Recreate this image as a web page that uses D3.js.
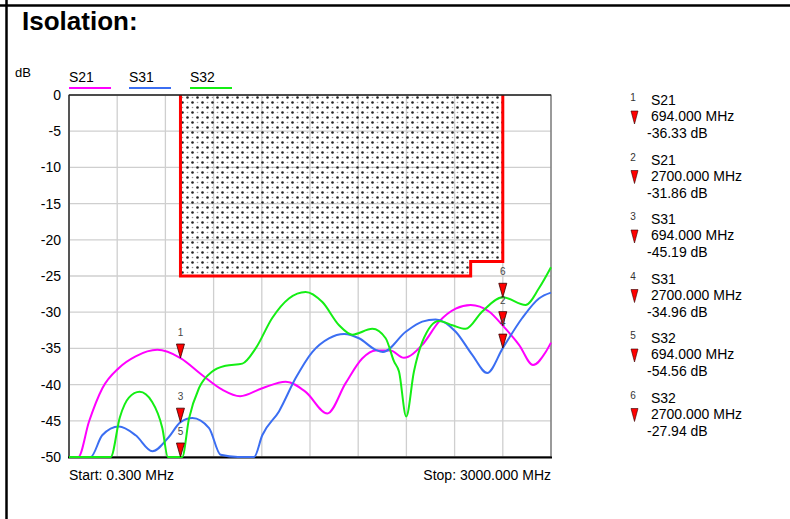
<!DOCTYPE html>
<html>
<head>
<meta charset="utf-8">
<script src="https://cdn.jsdelivr.net/npm/d3@7"></script>
<style>
  body { margin: 0; background: #fff; }
  text { font-family: "Liberation Sans", Arial, sans-serif; }
</style>
</head>
<body>
<div id="chart"></div>
<script>
// traces (MHz / dB), values below -50 get clamped on the floor
var s21Freq = [0.3, 58, 125, 208, 311, 415, 550, 694, 830, 954, 1065, 1203, 1349, 1473, 1608, 1722, 1825, 1909, 2000, 2085, 2199, 2303, 2407, 2500, 2614, 2700, 2801, 2888, 2967, 3000];
var s21Db   = [-58, -50, -45.1, -40.5, -37.7, -36.1, -35.2, -36.33, -38.7, -40.7, -41.6, -40.5, -39.6, -41.0, -44.0, -39.8, -36.4, -35.3, -35.3, -36.3, -34.5, -31.3, -29.5, -29.0, -29.9, -31.86, -34.5, -37.3, -35.5, -34.2];

var s31Freq = [0.3, 135, 207, 311, 415, 519, 623, 694, 768, 872, 944, 1052, 1152, 1203, 1307, 1411, 1514, 1618, 1712, 1805, 1909, 1954, 2096, 2199, 2282, 2407, 2510, 2603, 2700, 2821, 2925, 3000];
var s31Db   = [-55, -50, -47.0, -45.8, -47.0, -49.2, -47.2, -45.19, -44.6, -46.0, -49.7, -53, -50, -47.0, -43.7, -39.1, -35.5, -33.6, -33.0, -33.6, -35.2, -35.5, -32.7, -31.3, -31.0, -32.7, -35.9, -38.4, -34.96, -30.8, -28.1, -27.3];

var s32Freq = [0.3, 260, 317, 373, 440, 518, 581, 616, 694, 705, 747, 809, 892, 975, 1079, 1162, 1265, 1369, 1473, 1577, 1681, 1763, 1888, 1971, 2023, 2054, 2099, 2147, 2199, 2303, 2386, 2469, 2572, 2700, 2842, 2925, 3000];
var s32Db   = [-56, -50, -44.5, -41.8, -41.0, -42.4, -46.0, -50, -54.56, -50, -44.7, -40.5, -38.2, -37.4, -37.1, -35.0, -30.8, -28.1, -27.2, -28.6, -31.8, -33.1, -32.3, -33.6, -36.8, -38.2, -44.4, -38.2, -34.1, -31.2, -31.8, -32.3, -29.9, -27.94, -29.0, -26.7, -23.8];

var traceNames  = ["S21", "S31", "S32"];
var traceColors = ["#ff00ff", "#3b6ef2", "#14ee14"];

// limit mask
var maskFreq = [694, 694, 2500, 2500, 2700, 2700];
var maskDb   = [0, -25, -25, -23, -23, 0];

// markers
var markerTrace = [0, 0, 1, 1, 2, 2];
var markerFreq  = [694, 2700, 694, 2700, 694, 2700];
var markerDb    = [-36.33, -31.86, -45.19, -34.96, -54.56, -27.94];

var yTicks = [0, -5, -10, -15, -20, -25, -30, -35, -40, -45, -50];
var startFreq = 0.3, stopFreq = 3000;

var svg = d3.select("#chart").append("svg")
    .attr("width", 790)
    .attr("height", 519);

var x = d3.scaleLinear().domain([startFreq, stopFreq]).range([69, 551]);
var y = d3.scaleLinear().domain([-50, 0]).range([457, 95]);

// plain hyphen minus like the analyzer printout
function num(v, digits) { return v.toFixed(digits); }

// page frame
svg.append("line").attr("x1", 0).attr("x2", 790).attr("y1", 5.5).attr("y2", 5.5)
   .style("stroke", "#000").style("stroke-width", 2.5);
svg.append("line").attr("x1", 6.5).attr("x2", 6.5).attr("y1", 0).attr("y2", 519)
   .style("stroke", "#000").style("stroke-width", 2.5);

svg.append("text").attr("x", 22).attr("y", 30)
   .style("font-size", "26px").style("font-weight", "bold")
   .text("Isolation:");

svg.append("text").attr("x", 15).attr("y", 77).style("font-size", "13px").text("dB");

// legend
var legend = svg.append("g").selectAll("g")
   .data(traceNames)
   .enter()
   .append("g")
   .attr("transform", function (d, i) { return "translate(" + [69, 129, 190][i] + ",0)"; });
legend.append("text").attr("y", 82).style("font-size", "14px").text(function (d) { return d; });
legend.append("line").attr("x1", 0).attr("x2", 42).attr("y1", 88).attr("y2", 88)
   .style("stroke", function (d, i) { return traceColors[i]; }).style("stroke-width", 2);

// grid
var gridX = d3.range(11).map(function (i) { return startFreq + i * (stopFreq - startFreq) / 10; });
svg.append("g").selectAll("line").data(gridX).enter().append("line")
   .attr("x1", function (d) { return x(d); }).attr("x2", function (d) { return x(d); })
   .attr("y1", y(0)).attr("y2", y(-50))
   .style("stroke", "#cfcfcf").style("stroke-width", 1.3);
svg.append("g").selectAll("line").data(yTicks).enter().append("line")
   .attr("x1", x(startFreq)).attr("x2", x(stopFreq))
   .attr("y1", function (d) { return y(d); }).attr("y2", function (d) { return y(d); })
   .style("stroke", "#cfcfcf").style("stroke-width", 1.3);

// dotted pattern for the mask
var pat = svg.append("defs").append("pattern")
   .attr("id", "dots").attr("patternUnits", "userSpaceOnUse")
   .attr("width", 10).attr("height", 10);
pat.append("circle").attr("cx", 2.5).attr("cy", 2.5).attr("r", 1.3).style("fill", "#222");
pat.append("circle").attr("cx", 7.5).attr("cy", 7.5).attr("r", 1.3).style("fill", "#222");
pat.append("circle").attr("cx", 7.5).attr("cy", 2.5).attr("r", 0.8).style("fill", "#999");
pat.append("circle").attr("cx", 2.5).attr("cy", 7.5).attr("r", 0.8).style("fill", "#999");

var maskPts = maskFreq.map(function (f, i) { return [x(f), y(maskDb[i])]; });
var lineGen = d3.line();
svg.append("path").attr("d", lineGen(maskPts) + "Z").style("fill", "url(#dots)");
svg.append("path").attr("d", lineGen(maskPts))
   .style("fill", "none").style("stroke", "#ff0000").style("stroke-width", 3);

// plot frame
svg.append("rect").attr("x", 69).attr("y", 95).attr("width", 482).attr("height", 362)
   .style("fill", "none").style("stroke", "#555").style("stroke-width", 1);
svg.append("line").attr("x1", 69).attr("x2", 69).attr("y1", 95).attr("y2", 457)
   .style("stroke", "#555").style("stroke-width", 2);
svg.append("line").attr("x1", 68).attr("x2", 552).attr("y1", 457.5).attr("y2", 457.5)
   .style("stroke", "#000").style("stroke-width", 2);
svg.append("line").attr("x1", 69).attr("x2", 551).attr("y1", 95).attr("y2", 95)
   .style("stroke", "#000").style("stroke-width", 1);

// y axis labels
svg.append("g")
   .attr("transform", "translate(69,0)")
   .call(d3.axisLeft(y).tickValues(yTicks).tickSize(0).tickPadding(8).tickFormat(function (d) { return num(d, 0); }))
   .call(function (g) { g.select(".domain").remove(); })
   .selectAll("text")
   .style("font-size", "14px")
   .style("font-family", "'Liberation Sans', Arial, sans-serif")
   .style("fill", "#000");

// traces
var traces = [[s21Freq, s21Db], [s31Freq, s31Db], [s32Freq, s32Db]];
var traceLine = d3.line()
   .x(function (d) { return x(d[0]); })
   .y(function (d) { return y(Math.max(d[1], -50)); })
   .curve(d3.curveMonotoneX);

svg.append("g").selectAll("path")
   .data(traces)
   .enter()
   .append("path")
   .attr("d", function (t) { return traceLine(t[0].map(function (f, i) { return [f, t[1][i]]; })); })
   .style("fill", "none")
   .style("stroke", function (d, i) { return traceColors[i]; })
   .style("stroke-width", 2);

// markers on the plot
var mk = svg.append("g").selectAll("g")
   .data(markerFreq)
   .enter()
   .append("g")
   .attr("transform", function (d, i) { return "translate(" + x(d) + "," + y(Math.max(markerDb[i], -50)) + ")"; });
mk.append("text").attr("y", -22).attr("text-anchor", "middle")
   .style("font-size", "10px").style("fill", "#444")
   .text(function (d, i) { return i + 1; });
mk.append("path").attr("d", "M-4,-14L4,-14L0,0Z")
   .style("fill", "#ff0000").style("stroke", "#300").style("stroke-width", 0.8);

svg.append("text").attr("x", 69).attr("y", 480).style("font-size", "14px")
   .text("Start: " + num(startFreq, 3) + " MHz");
svg.append("text").attr("x", 551).attr("y", 480).attr("text-anchor", "end").style("font-size", "14px")
   .text("Stop: " + num(stopFreq, 3) + " MHz");

// marker readout on the right
var info = svg.append("g").selectAll("g")
   .data(markerFreq)
   .enter()
   .append("g")
   .attr("transform", function (d, i) { return "translate(0," + (100 + i * 59.5) + ")"; });
info.append("text").attr("x", 633).attr("y", 1).attr("text-anchor", "middle")
   .style("font-size", "10px").style("fill", "#333")
   .text(function (d, i) { return i + 1; });
info.append("text").attr("x", 651).attr("y", 5).style("font-size", "14px")
   .text(function (d, i) { return traceNames[markerTrace[i]]; });
info.append("path").attr("d", "M631,11L638,11L634.5,24Z")
   .style("fill", "#ff0000").style("stroke", "#300").style("stroke-width", 0.6);
info.append("text").attr("x", 651).attr("y", 21).style("font-size", "14px")
   .text(function (d) { return num(d, 3) + " MHz"; });
info.append("text").attr("x", 647).attr("y", 38).style("font-size", "14px")
   .text(function (d, i) { return num(markerDb[i], 2) + " dB"; });
</script>
</body>
</html>
